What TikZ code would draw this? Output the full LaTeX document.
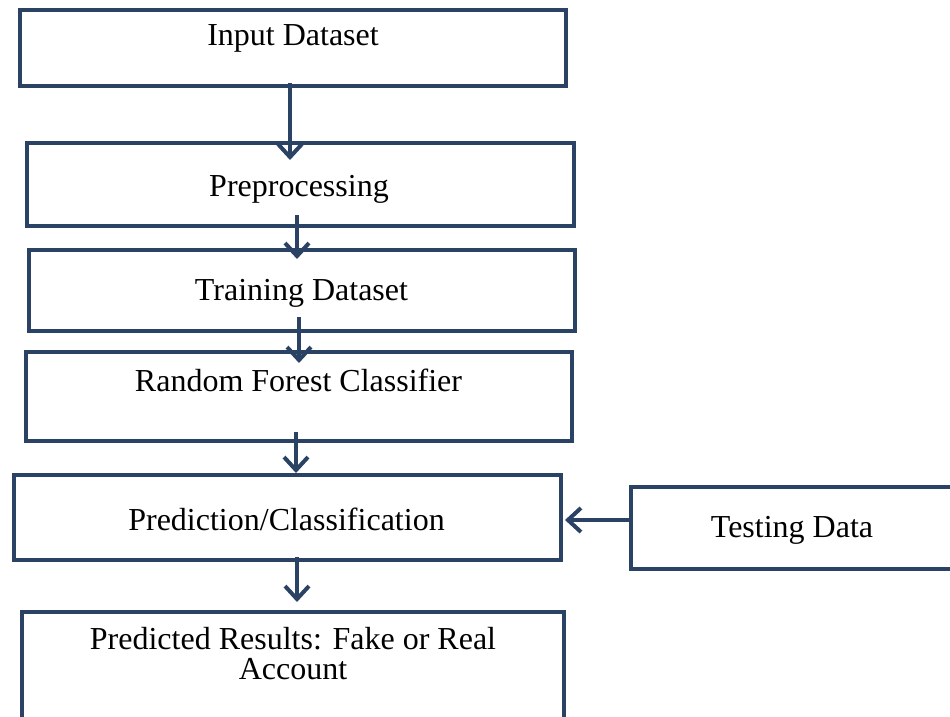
\documentclass[tikz,border=0pt]{standalone}
\usepackage{fontspec}
\setmainfont{Liberation Serif}
\usetikzlibrary{arrows.meta}
\definecolor{navy}{HTML}{2A4365}
\begin{document}
\begin{tikzpicture}[x=1pt,y=-1pt,
  box/.style={draw=navy, line width=4.5pt, inner sep=0pt, outer sep=0pt, fill=none},
  lbl/.style={font=\fontsize{32}{30}\selectfont, inner sep=0pt, anchor=base, align=center},
  arr/.style={draw=navy, line width=4pt, -{Straight Barb[length=13pt,width=24pt,line width=4pt]}}]
  \useasboundingbox (0,0) rectangle (950,717);
  % boxes
  \node[box, minimum width=546pt, minimum height=76pt] (b1) at (293,48) {};
  \node[box, minimum width=547pt, minimum height=83pt] (b2) at (300.5,184.5) {};
  \node[box, minimum width=546pt, minimum height=81pt] (b3) at (302,290.5) {};
  \node[box, minimum width=546pt, minimum height=89pt] (b4) at (299,396.5) {};
  \node[box, minimum width=547pt, minimum height=85pt] (b5) at (287.5,517.5) {};
  \node[box, minimum width=329pt, minimum height=82pt] (b6) at (795.5,528) {};
  \node[box, minimum width=542pt, minimum height=128pt] (b7) at (293,676) {};
  % labels
  \node[lbl] (t1) at (293,46) {Input Dataset};
  \node[lbl] (t2) at (299,196) {Preprocessing};
  \node[lbl] (t3) at (301.5,300) {Training Dataset};
  \node[lbl] (t4) at (298.5,391) {Random Forest Classifier};
  \node[lbl] (t5) at (286.5,530) {Prediction/Classification};
  \node[lbl] (t6) at (792,537) {Testing Data};
  \node[lbl] (t7) at (293,679) {Predicted Results: Fake or Real\\Account};
  % connectors
  \draw[arr] ([xshift=-3pt,yshift=3pt]b1.south) -- ([xshift=-10.5pt,yshift=-17pt]b2.north);
  \draw[arr] ([xshift=-3.5pt,yshift=11pt]b2.south) -- ([xshift=-5pt,yshift=-9pt]b3.north);
  \draw[arr] ([xshift=-3pt,yshift=14pt]b3.south) -- ([yshift=-11pt]b4.north);
  \draw[arr] ([xshift=-3pt,yshift=9pt]b4.south) -- ([xshift=8.5pt,yshift=2pt]b5.north);
  \draw[arr] ([xshift=9.5pt,yshift=3pt]b5.south) -- ([xshift=4pt,yshift=10pt]b7.north);
  \draw[arr] ([yshift=8pt]b6.west) -- ([xshift=4pt,yshift=-2.5pt]b5.east);
\end{tikzpicture}
\end{document}
